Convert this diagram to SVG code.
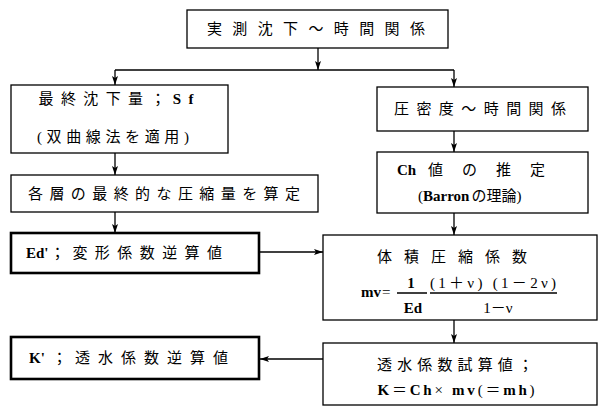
<svg xmlns="http://www.w3.org/2000/svg" width="598" height="406" viewBox="0 0 598 406">
<style>
.box{fill:#fff;stroke:#000;stroke-width:1.3}
.thick{fill:#fff;stroke:#000;stroke-width:2.6}
.t{font-family:"Liberation Serif","Noto Sans CJK JP",serif;font-size:15px;fill:#000;text-anchor:middle}
.s{text-anchor:start}
.l{font-weight:bold}
.c{fill:none;stroke:#000;stroke-width:1.3}
</style>
<defs>
<marker id="ah" markerUnits="userSpaceOnUse" markerWidth="9" markerHeight="7" refX="9" refY="3.5" orient="auto">
<path d="M0,0.5 L9,3.5 L0,6.5 L2,3.5 z" fill="#000"/>
</marker>
</defs>
<rect width="598" height="406" fill="#fff"/>
<g id="connectors" class="c">
<path d="M318,48 V70" marker-end="url(#ah)"/>
<path d="M115,70 H454"/>
<path d="M115,70 V85" marker-end="url(#ah)"/>
<path d="M454,70 V87" marker-end="url(#ah)"/>
<path d="M115,153 V175" marker-end="url(#ah)"/>
<path d="M115,212 V233" marker-end="url(#ah)"/>
<path d="M454,131 V152" marker-end="url(#ah)"/>
<path d="M454,213 V235" marker-end="url(#ah)"/>
<path d="M260,252 H323" marker-end="url(#ah)"/>
<path d="M454,320 V343" marker-end="url(#ah)"/>
<path d="M323,359 H260" marker-end="url(#ah)"/>
</g>
<g id="n-top">
<rect class="box" x="187" y="10" width="261" height="38"/>
<text class="t" x="316" y="34" textLength="218" lengthAdjust="spacing">実測沈下～時間関係</text>
</g>
<g id="n-sf">
<rect class="box" x="11" y="85" width="217" height="68"/>
<text class="t" x="116" y="104" textLength="155" lengthAdjust="spacing">最終沈下量；<tspan class="l">Sf</tspan></text>
<text class="t" x="113" y="142" textLength="152" lengthAdjust="spacing">(双曲線法を適用)</text>
</g>
<g id="n-layer">
<rect class="box" x="11" y="175" width="307" height="37"/>
<text class="t" x="164" y="199" textLength="272" lengthAdjust="spacing">各層の最終的な圧縮量を算定</text>
</g>
<g id="n-ed">
<rect class="thick" x="11" y="233" width="248" height="40"/>
<text class="t s l" x="26" y="258">Ed'</text>
<text class="t s" x="50" y="258" textLength="172" lengthAdjust="spacing">；変形係数逆算値</text>
</g>
<g id="n-k">
<rect class="thick" x="11" y="337" width="248" height="42"/>
<text class="t s l" x="29" y="363">K'</text>
<text class="t s" x="52" y="363" textLength="176" lengthAdjust="spacing">；透水係数逆算値</text>
</g>
<g id="n-consol">
<rect class="box" x="377" y="87" width="211" height="44"/>
<text class="t" x="480" y="114" textLength="172" lengthAdjust="spacing">圧密度～時間関係</text>
</g>
<g id="n-ch">
<rect class="box" x="377" y="152" width="211" height="61"/>
<text class="t s l" x="397" y="175">Ch</text>
<text class="t s" x="428" y="175" textLength="117" lengthAdjust="spacing">値の推定</text>
<text class="t s" x="418" y="201" font-size="16">(<tspan class="l">Barron</tspan><tspan dx="2">の理論)</tspan></text>
</g>
<g id="n-mv">
<rect class="box" x="323" y="235" width="274" height="85"/>
<text class="t" x="452" y="262" textLength="150" lengthAdjust="spacing">体積圧縮係数</text>
<text class="t s l" x="361" y="297" font-size="14">mv</text>
<text class="t s" x="382" y="297">=</text>
<path d="M397,293 H427 M430,293 H557" class="c" stroke-width="1"/>
<text class="t l" x="411" y="288">1</text>
<text class="t l" x="413" y="313">Ed</text>
<text class="t" x="493" y="288" textLength="126" lengthAdjust="spacing">(1＋ν) (1－2ν)</text>
<text class="t" x="498" y="313">1－ν</text>
</g>
<g id="n-kcalc">
<rect class="box" x="323" y="343" width="274" height="62"/>
<text class="t" x="455" y="370" textLength="156" lengthAdjust="spacing">透水係数試算値；</text>
<text class="t" x="456" y="395" textLength="157" lengthAdjust="spacing"><tspan class="l">K</tspan>＝<tspan class="l">Ch</tspan>× <tspan class="l">mv</tspan>(＝<tspan class="l">mh</tspan>)</text>
</g>
</svg>
